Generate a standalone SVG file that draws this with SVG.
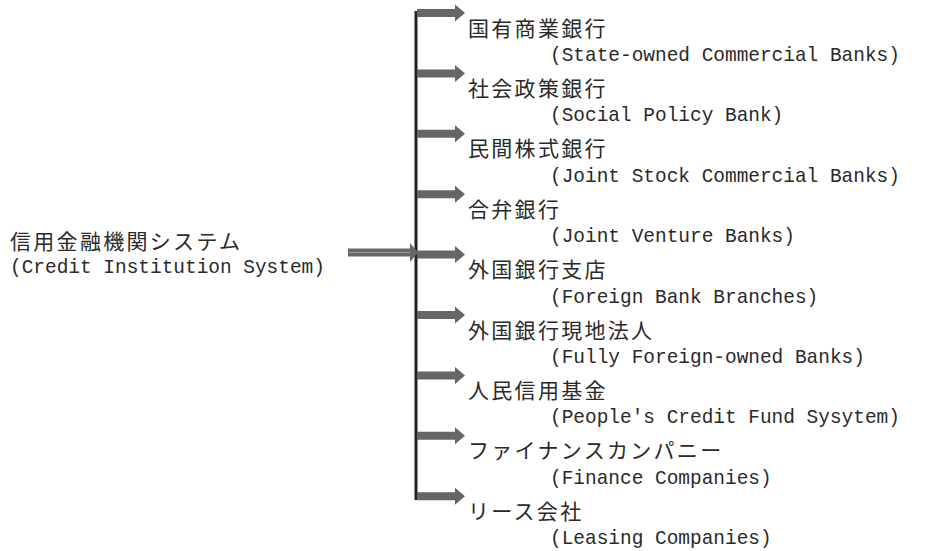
<svg xmlns="http://www.w3.org/2000/svg" width="951" height="551" viewBox="0 0 951 551">
<defs>
<style>
.jp{font-family:"Noto Sans CJK JP","Liberation Serif",serif;font-size:21px;letter-spacing:2.3px;fill:#2a2a2a}
.en{font-family:"Liberation Mono","DejaVu Sans Mono",monospace;font-size:19.45px;fill:#2a2a2a}
.arr{fill:#666}
</style>
<path id="a" class="arr" d="M417,-4 H455 V-8.5 L465,0 L455,8.5 V4 H417 Z"/>
</defs>
<rect width="951" height="551" fill="#fff"/>
<g id="connectors">
<line x1="416" y1="11" x2="416" y2="500" stroke="#222" stroke-width="3"/>
<path class="arr" d="M348,248.5 H410 V243 L418,252.5 L410,262 V256.5 H348 Z"/>
<line x1="349" y1="252.5" x2="410" y2="252.5" stroke="#9a9a9a" stroke-width="1"/>
<use href="#a" transform="translate(0,13)"/>
<use href="#a" transform="translate(0,73.4)"/>
<use href="#a" transform="translate(0,133.8)"/>
<use href="#a" transform="translate(0,194.2)"/>
<use href="#a" transform="translate(0,254.6)"/>
<use href="#a" transform="translate(0,315)"/>
<use href="#a" transform="translate(0,375.4)"/>
<use href="#a" transform="translate(0,435.8)"/>
<use href="#a" transform="translate(0,496.2)"/>
</g>
<g id="root">
<text class="jp" x="10" y="248.5">信用金融機関システム</text>
<text class="en" x="10" y="273">(Credit Institution System)</text>
</g>
<g id="n1"><text class="jp" x="468" y="35.5">国有商業銀行</text><text class="en" x="550" y="61">(State-owned Commercial Banks)</text></g>
<g id="n2"><text class="jp" x="468" y="95.9">社会政策銀行</text><text class="en" x="550" y="121.4">(Social Policy Bank)</text></g>
<g id="n3"><text class="jp" x="468" y="156.3">民間株式銀行</text><text class="en" x="550" y="181.8">(Joint Stock Commercial Banks)</text></g>
<g id="n4"><text class="jp" x="468" y="216.7">合弁銀行</text><text class="en" x="550" y="242.2">(Joint Venture Banks)</text></g>
<g id="n5"><text class="jp" x="468" y="277.1">外国銀行支店</text><text class="en" x="550" y="302.6">(Foreign Bank Branches)</text></g>
<g id="n6"><text class="jp" x="468" y="337.5">外国銀行現地法人</text><text class="en" x="550" y="363">(Fully Foreign-owned Banks)</text></g>
<g id="n7"><text class="jp" x="468" y="397.9">人民信用基金</text><text class="en" x="550" y="423.4">(People's Credit Fund Sysytem)</text></g>
<g id="n8"><text class="jp" x="468" y="458.3">ファイナンスカンパニー</text><text class="en" x="550" y="483.8">(Finance Companies)</text></g>
<g id="n9"><text class="jp" x="468" y="518.7">リース会社</text><text class="en" x="550" y="544.2">(Leasing Companies)</text></g>
</svg>
